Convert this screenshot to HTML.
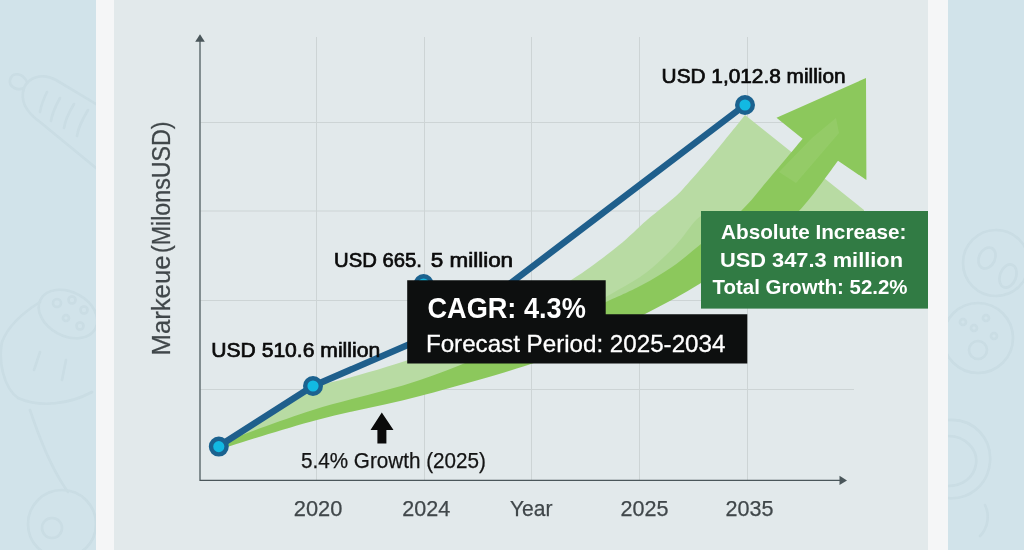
<!DOCTYPE html>
<html lang="en">
<head>
<meta charset="utf-8">
<title>Market Growth Forecast</title>
<style>
html,body{margin:0;padding:0;background:#d1e3ea;}
body{width:1024px;height:550px;overflow:hidden;font-family:"Liberation Sans",sans-serif;}
svg{display:block;}
text{font-family:"Liberation Sans",sans-serif;}
.lbl{fill:#0b0b0b;stroke:#0b0b0b;stroke-width:.7px;}
.tick{fill:#40474a;stroke:#40474a;stroke-width:.25px;}
.wb{fill:#fff;font-weight:bold;}
</style>
</head>
<body>
<svg width="1024" height="550" viewBox="0 0 1024 550">
  <!-- background bands -->
  <rect x="0" y="0" width="1024" height="550" fill="#d1e3ea"/>
  <rect x="96" y="0" width="852" height="550" fill="#f5f6f7"/>
  <rect x="114" y="0" width="814" height="550" fill="#e2e9eb"/>


  <!-- faint decorative doodles in side bands -->
  <g fill="none" stroke="#c2d6de" stroke-width="2.6" stroke-linecap="round" stroke-linejoin="round" opacity=".5">
    <!-- sausage -->
    <path d="M27 82C22 72 12 72 10 80C9 87 17 91 24 88"/>
    <path d="M24 88C28 78 42 72 56 80L96 104M24 88C20 100 26 112 40 122L96 168"/>
    <path d="M47 92C43 100 41 106 40 112M60 98C55 107 52 114 51 121M74 104C68 114 65 121 64 128M88 110C82 120 78 128 77 136"/>
    <!-- roll -->
    <ellipse cx="68" cy="314" rx="31" ry="22" transform="rotate(28 68 314)"/>
    <circle cx="57" cy="303" r="4"/><circle cx="72" cy="300" r="3.5"/><circle cx="84" cy="310" r="3.5"/><circle cx="66" cy="318" r="3"/><circle cx="80" cy="326" r="3.5"/>
    <path d="M40 302C24 312 8 326 2 342C-2 362 4 388 18 398C40 408 70 404 92 392"/>
    <path d="M40 352L34 370M66 360L62 380"/>
    <path d="M30 410C40 440 52 470 68 492"/>
    <circle cx="62" cy="524" r="34"/><circle cx="52" cy="528" r="10"/>
    <!-- right band circles -->
    <circle cx="996" cy="263" r="33"/>
    <ellipse cx="987" cy="258" rx="8" ry="11" transform="rotate(25 987 258)"/>
    <ellipse cx="1008" cy="276" rx="8" ry="12" transform="rotate(20 1008 276)"/>
    <circle cx="978" cy="338" r="35"/>
    <circle cx="978" cy="350" r="9"/><circle cx="963" cy="322" r="3"/><circle cx="974" cy="328" r="3"/><circle cx="986" cy="318" r="3"/><circle cx="994" cy="336" r="3"/>
    <path d="M948 420C975 418 992 440 990 462C988 486 968 500 948 498"/>
    <path d="M948 436C966 436 978 450 976 464C974 478 962 486 948 486"/>
    <path d="M985 505C990 515 988 528 980 536"/>
  </g>

  <rect x="96" y="0" width="18" height="550" fill="#f5f6f7"/>
  <rect x="928" y="0" width="20" height="550" fill="#f5f6f7"/>

  <!-- grid -->
  <g stroke="#cdd4d5" stroke-width="1" fill="none">
    <path d="M316.5 37V480M424.5 37V480M531.5 37V480M639.5 37V480M747.5 37V480"/>
    <path d="M200.5 122.5H854M200.5 211H854M200.5 300.5H854M200.5 389.5H854"/>
  </g>

  <!-- green growth shapes -->
  <path id="lightgreen" fill="#b8dba3"
        d="M219 446 L313 386 C330.8 383.5 388.8 367.2 420.0 356.0 C451.2 344.8 474.7 334.8 500.0 322.0 C525.3 309.2 552.3 292.2 572.0 279.5 C591.7 266.8 605.5 255.9 618.0 246.0 C630.5 236.1 637.3 228.3 647.0 220.0 C656.7 211.7 668.8 202.5 676.0 196.0 C683.2 189.5 685.2 186.3 690.0 181.0 C694.8 175.7 700.0 169.8 705.0 164.0 C710.0 158.2 714.7 152.5 720.0 146.0 C725.3 139.5 732.8 130.2 737.0 125.0 C741.2 119.8 743.7 116.7 745.0 115.0 L864 210 L864 250 L745 250 L741.0 215.0 C734.3 220.5 712.5 238.7 701.0 248.0 C689.5 257.3 681.8 264.2 672.0 271.0 C662.2 277.8 653.0 283.2 642.0 289.0 C631.0 294.8 626.3 296.8 606.0 306.0 C585.7 315.2 551.0 331.0 520.0 344.0 C489.0 357.0 454.5 372.3 420.0 384.0 C385.5 395.7 346.5 403.4 313.0 414.0 C279.5 424.6 234.7 441.9 219.0 447.5 Z"/>
  <path id="medgreen" fill="#acd692"
        d="M470 361 C478.3 357.2 500.0 347.3 520.0 338.0 C540.0 328.7 573.7 313.0 590.0 305.0 C606.3 297.0 608.5 295.5 618.0 290.0 C627.5 284.5 637.3 279.5 647.0 272.0 C656.7 264.5 667.2 254.2 676.0 245.0 C684.8 235.8 692.2 222.2 699.5 217.0 C706.8 211.8 713.1 214.7 720.0 214.0 C726.9 213.3 737.5 213.2 741.0 213.0 L741.0 215.0 C734.3 220.5 712.5 238.7 701.0 248.0 C689.5 257.3 681.8 264.2 672.0 271.0 C662.2 277.8 653.0 283.2 642.0 289.0 C631.0 294.8 626.3 296.8 606.0 306.0 C585.7 315.2 551.0 331.0 520.0 344.0 C489.0 357.0 436.7 377.3 420.0 384.0 Z"/>
  <path id="darkgreen" fill="#8cc85c"
        d="M219 443.5 C234.7 437.9 279.5 420.6 313.0 410.0 C346.5 399.4 385.5 391.7 420.0 380.0 C454.5 368.3 489.0 353.0 520.0 340.0 C551.0 327.0 585.7 311.2 606.0 302.0 C626.3 292.8 631.0 290.8 642.0 285.0 C653.0 279.2 662.2 273.8 672.0 267.0 C681.8 260.2 689.5 253.3 701.0 244.0 C712.5 234.7 729.8 221.7 741.0 211.0 C752.2 200.3 757.7 192.1 768.0 180.0 C778.3 167.9 796.8 145.6 802.6 138.7 L776.5 117.8 L866 78 L866.4 180 L838 160.7 C831.5 169.1 812.8 196.6 799.0 211.0 C785.2 225.4 771.3 235.0 755.0 247.0 C738.7 259.0 719.2 271.9 701.0 283.0 C682.8 294.1 664.5 304.1 646.0 313.6 C627.5 323.1 609.7 331.4 590.0 340.0 C570.3 348.6 556.3 355.7 528.0 365.0 C499.7 374.3 455.2 386.8 420.0 396.0 C384.8 405.2 350.5 411.1 317.0 420.0 C283.5 428.9 235.3 444.6 219.0 449.5 Z"/>

  <path d="M779 172L796 183L839 133L836 118L812 138Z" fill="#ffffff" opacity=".07"/>

  <!-- axes -->
  <g stroke="#4a565a" stroke-width="1.25" fill="none">
    <path d="M200 40V480.4H840"/>
  </g>
  <path d="M200 34.3L204.8 41.8H195.2Z" fill="#4a565a"/>
  <path d="M847 480.4L839.5 475.7V485.1Z" fill="#4a565a"/>

  <!-- blue line -->
  <g fill="none" stroke="#1f5f8c" stroke-width="6.5" stroke-linejoin="round" stroke-linecap="round">
    <path d="M219 446L313 386L440 331"/>
    <path d="M470 314L745 105"/>
  </g>
  <g>
    <circle cx="423.6" cy="284" r="7.8" fill="#12b9e2" stroke="#1b628f" stroke-width="4.4"/>
    <circle cx="218.8" cy="446.6" r="7.8" fill="#12b9e2" stroke="#1b628f" stroke-width="4.4"/>
    <circle cx="313" cy="386" r="7.8" fill="#12b9e2" stroke="#1b628f" stroke-width="4.4"/>
    <circle cx="745" cy="105" r="7.8" fill="#12b9e2" stroke="#1b628f" stroke-width="4.4"/>
  </g>

  <!-- green info box -->
  <rect x="701" y="211" width="227" height="97.6" fill="#317b44"/>
  <text class="wb" x="721" y="239" font-size="20.4" textLength="185.5" lengthAdjust="spacingAndGlyphs">Absolute Increase:</text>
  <text class="wb" x="720" y="267" font-size="20.4" textLength="183" lengthAdjust="spacingAndGlyphs">USD 347.3 million</text>
  <text class="wb" x="712.5" y="294" font-size="20.4" textLength="195" lengthAdjust="spacingAndGlyphs">Total Growth: 52.2%</text>

  <!-- black CAGR box -->
  <path d="M407.2 280.3H605.7V314.2H747.3V363.6H407.2Z" fill="#0d0f0f"/>
  <text class="wb" x="427.4" y="318" font-size="29.5" textLength="158.5" lengthAdjust="spacingAndGlyphs">CAGR: 4.3%</text>
  <text x="425.9" y="351.6" font-size="23.8" fill="#fff" stroke="#fff" stroke-width=".3" textLength="299.5" lengthAdjust="spacingAndGlyphs">Forecast Period: 2025-2034</text>

  <!-- data labels -->
  <text class="lbl" x="661.6" y="82.7" font-size="20.2" textLength="184" lengthAdjust="spacingAndGlyphs">USD 1,012.8 million</text>
  <text class="lbl" x="334.1" y="266.5" font-size="20.5" textLength="87.9" lengthAdjust="spacingAndGlyphs">USD 665.</text>
  <text class="lbl" x="430.8" y="266.5" font-size="20.5" textLength="82.3" lengthAdjust="spacingAndGlyphs">5 million</text>
  <text class="lbl" x="211.2" y="356.6" font-size="20.5" textLength="169" lengthAdjust="spacingAndGlyphs">USD 510.6 million</text>

  <!-- small black arrow + note -->
  <path d="M381.8 412.5L393.5 430H386.4V443.5H377.4V430H370.5Z" fill="#0a0a0a"/>
  <text x="301" y="468.4" font-size="21.2" fill="#141414" stroke="#141414" stroke-width=".25" textLength="185" lengthAdjust="spacingAndGlyphs">5.4% Growth (2025)</text>

  <!-- x ticks -->
  <g class="tick" font-size="21.8">
    <text x="293.8" y="516.3" textLength="48.6" lengthAdjust="spacingAndGlyphs">2020</text>
    <text x="402.2" y="516.3" textLength="48" lengthAdjust="spacingAndGlyphs">2024</text>
    <text x="510" y="516.3" textLength="42.5" lengthAdjust="spacingAndGlyphs">Year</text>
    <text x="620.5" y="516.3" textLength="48" lengthAdjust="spacingAndGlyphs">2025</text>
    <text x="725.5" y="516.3" textLength="48" lengthAdjust="spacingAndGlyphs">2035</text>
  </g>

  <!-- y label -->
  <text class="tick" font-size="26" transform="translate(170 355.5) rotate(-90)" textLength="100" lengthAdjust="spacingAndGlyphs">Markeue</text>
  <text class="tick" font-size="26" transform="translate(170 253) rotate(-90)" textLength="131.5" lengthAdjust="spacingAndGlyphs">(MilonsUSD)</text>
</svg>
</body>
</html>
